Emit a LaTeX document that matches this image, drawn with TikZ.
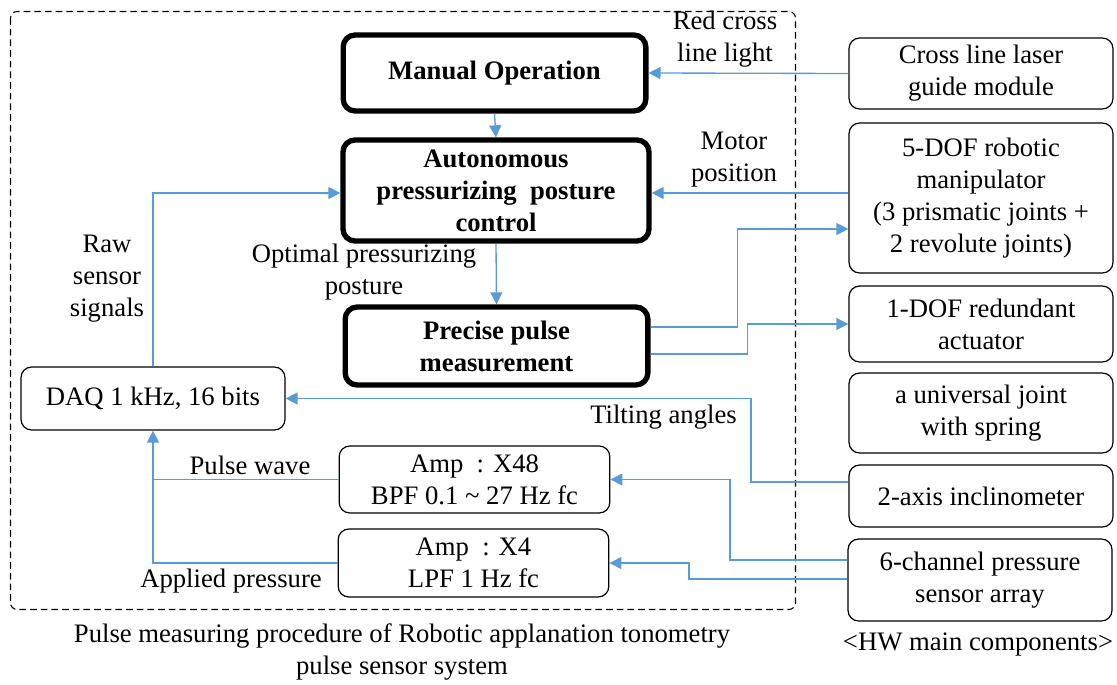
\documentclass[tikz,border=0pt]{standalone}
\usepackage{fontspec}
\setmainfont{Liberation Serif}
\usetikzlibrary{arrows.meta}
\definecolor{lineblue}{RGB}{91,155,213}
\begin{document}
\begin{tikzpicture}[x=0.75pt,y=-0.75pt,
  every node/.style={font=\fontsize{20}{24}\selectfont, align=center, inner sep=0pt},
  thickbox/.style={draw, line width=4pt, rounded corners=9pt, font=\fontsize{20}{24}\selectfont\bfseries},
  thinbox/.style={draw, line width=0.9pt, rounded corners=8pt},
  hwbox/.style={thinbox, minimum width=198pt},
  bl/.style={draw=lineblue, line width=1pt},
  arr/.style={bl, -{Triangle[length=9pt,width=9pt]}}
]
\useasboundingbox (0,0) rectangle (1117,685);
% dashed frame
\draw[dashed, dash pattern=on 5pt off 3pt, line width=0.8pt, rounded corners=5pt] (10.5,11.5) rectangle (795.5,609.5);

% main procedure boxes
\node[thickbox, minimum width=227pt, minimum height=57pt] (man) at (494.5,73) {Manual Operation};
\node[thickbox, minimum width=229.5pt, minimum height=75.75pt] (auto) at (496,190.5) {Autonomous\\pressurizing\ \ posture\\control};
\node[thickbox, minimum width=227pt, minimum height=58.5pt] (prec) at (496.5,346) {Precise pulse\\measurement};

\node[thinbox, minimum width=198pt, minimum height=47.25pt] (daq) at (153,398.5) {DAQ 1 kHz, 16 bits};
\node[thinbox, minimum width=203pt, minimum height=50.25pt] (amp48) at (474.5,479.5) {Amp\ \ : X48\\BPF 0.1 \textasciitilde\ 27 Hz fc};
\node[thinbox, minimum width=203pt, minimum height=51pt] (amp4) at (473.5,563) {Amp\ \ : X4\\LPF 1 Hz fc};

% hardware boxes
\node[hwbox, minimum height=53.25pt] (cross) at (981,73.5) {Cross line laser\\guide module};
\node[hwbox, minimum height=112.5pt] (dof5) at (981,198) {5-DOF robotic\\manipulator\\(3 prismatic joints +\\2 revolute joints)};
\node[hwbox, minimum height=57pt] (dof1) at (981,324) {1-DOF redundant\\actuator};
\node[hwbox, minimum height=60pt] (ujoint) at (981,413) {a universal joint\\with spring};
\node[hwbox, minimum height=46.5pt] (incl) at (981,496) {2-axis inclinometer};
\node[hwbox, minimum height=61.5pt] (six) at (980,580) {6-channel pressure\\sensor array};

% labels
\node (lred) at (725,39) {Red cross\\line light};
\node (lmotor) at (734,160) {Motor\\position};
\node (lraw) at (107,279) {Raw\\sensor\\signals};
\node (lopt) at (364,272.5) {Optimal pressurizing\\posture};
\node (ltilt) at (663.5,417) {Tilting angles};
\node (lpulse) at (250,465) {Pulse wave};
\node (lapp) at (231,581) {Applied pressure};
\node (cap1) at (402,651.5) {Pulse measuring procedure of Robotic applanation tonometry\\pulse sensor system};
\node (cap2) at (978,645) {<HW main components>};

% connectors
\draw[arr] (cross.west) -- (man.east);
\draw[arr] (man.south) -- (auto.north);
\draw[arr] (auto.south) -- (prec.north);
\draw[arr] (dof5.west |- 0,193) -- (auto.east |- 0,193);
\draw[arr] (daq.north) |- (auto.west |- 0,193);
\draw[arr] (prec.east |- 0,327) -- (737.5,327) |- (dof5.west |- 0,229);
\draw[arr] (prec.east |- 0,354) -- (747.5,354) |- (dof1.west);
\draw[arr] (incl.west |- 0,482) -- (751,482) |- (daq.east);
\draw[arr] (amp48.west) -| (daq.south);
\draw[bl] (amp4.west) -| (amp48.west -| daq.south);
\draw[arr] (six.west |- 0,560) -- (730,560) |- (amp48.east);
\draw[arr] (six.west |- 0,579) -- (689,579) |- (amp4.east);
\end{tikzpicture}
\end{document}
